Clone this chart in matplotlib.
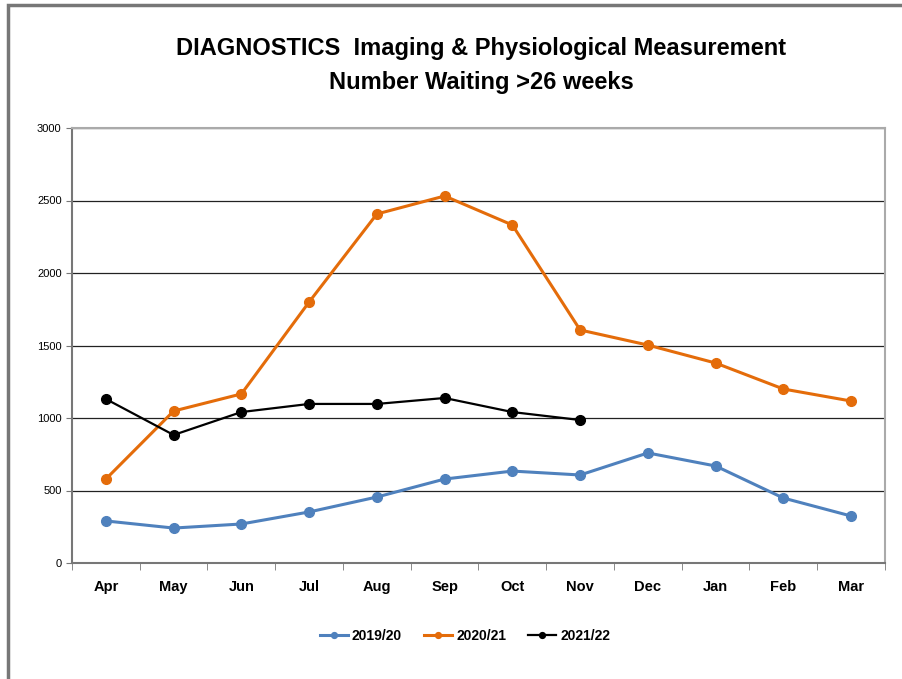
import matplotlib
matplotlib.use('Agg')
import matplotlib.pyplot as plt
from matplotlib.patches import Rectangle

months = ['Apr', 'May', 'Jun', 'Jul', 'Aug', 'Sep', 'Oct', 'Nov', 'Dec', 'Jan', 'Feb', 'Mar']
y2019 = [290, 241, 269, 352, 455, 579, 634, 607, 759, 669, 448, 324]
y2020 = [579, 1048, 1166, 1800, 2407, 2531, 2331, 1607, 1503, 1379, 1200, 1117]
y2021 = [1131, 883, 1041, 1097, 1097, 1138, 1041, 986]
series_names = ['2019/20', '2020/21', '2021/22']

plt.rcParams['font.family'] = ['Liberation Sans', 'DejaVu Sans']

fig = plt.figure(figsize=(9.03, 6.79), dpi=100)
# grey slide border at top/left
fig.patches.append(Rectangle((8 / 903, -0.1), 1.2, 1 - 5 / 679 + 0.1, transform=fig.transFigure,
                             fill=False, edgecolor='#777777', linewidth=2.5))
ax = fig.add_axes([72 / 903, 1 - 563 / 679, (885 - 72) / 903, (563 - 128) / 679])

x = list(range(len(months)))
ax.plot(x, y2019, color='#4F81BD', lw=2.2, marker='o', ms=7, label=series_names[0])
ax.plot(x, y2020, color='#E46C0A', lw=2.2, marker='o', ms=7, label=series_names[1])
ax.plot(x[:len(y2021)], y2021, color='black', lw=1.6, marker='o', ms=7, label=series_names[2])

ax.set_xlim(-0.5, 11.5)
ax.set_ylim(0, 3000)
ax.set_yticks(range(0, 3001, 500))
ax.tick_params(axis='y', labelsize=8, length=4, direction='out', color='#777777')
ax.yaxis.grid(True, color='#222222', lw=0.9)
ax.set_axisbelow(True)

ax.set_xticks(x)
ax.set_xticklabels(months, fontsize=10.5, fontweight='bold')
ax.tick_params(axis='x', which='major', length=0, pad=12)
ax.set_xticks([i + 0.5 for i in range(-1, 12)], minor=True)
ax.tick_params(axis='x', which='minor', length=5, direction='out', color='#777777')

for s in ['left', 'bottom']:
    ax.spines[s].set_color('#777777')
    ax.spines[s].set_linewidth(1.5)
for s in ['top', 'right']:
    ax.spines[s].set_color('#aaaaaa')
    ax.spines[s].set_linewidth(1.5)

fig.text(0.533, 1 - 48 / 679, 'DIAGNOSTICS  Imaging & Physiological Measurement',
         ha='center', va='center', fontsize=17, fontweight='bold')
fig.text(0.533, 1 - 83 / 679, 'Number Waiting >26 weeks',
         ha='center', va='center', fontsize=17, fontweight='bold')

fig.legend(loc='center', bbox_to_anchor=(465 / 903, 1 - 636 / 679), ncol=3, frameon=False,
           prop={'size': 10, 'weight': 'bold'}, handlelength=2.0, markerscale=0.6,
           columnspacing=1.6, handletextpad=0.3)

fig.savefig('out.png', dpi=100)
